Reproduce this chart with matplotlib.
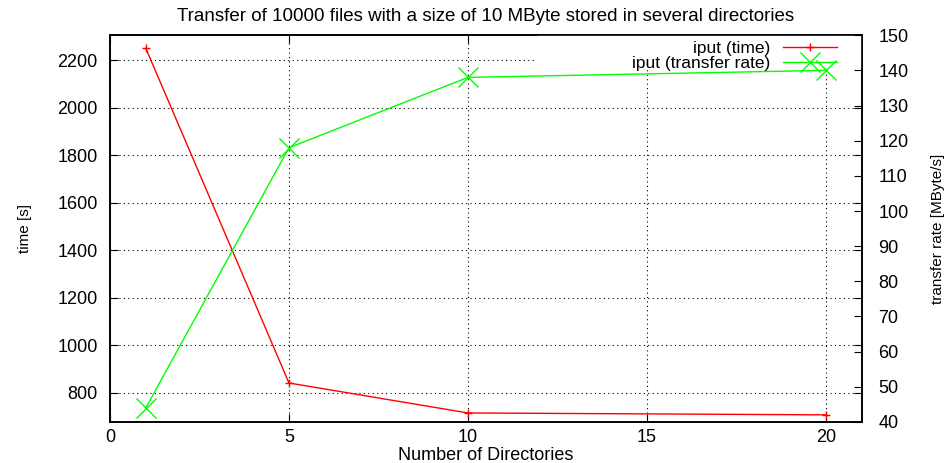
import matplotlib
matplotlib.use("Agg")
import matplotlib.pyplot as plt
from matplotlib.patches import Rectangle

plt.rcParams['font.family'] = ['Liberation Sans', 'DejaVu Sans']

dirs = [1, 5, 10, 20]
time_s = [2250, 842, 716, 708]
rate = [44, 118, 138, 140]

x_ticks = [0, 5, 10, 15, 20]
y_ticks = [800, 1000, 1200, 1400, 1600, 1800, 2000, 2200]
y2_ticks = [40, 50, 60, 70, 80, 90, 100, 110, 120, 130, 140, 150]

narrow = ['Liberation Sans Narrow', 'Liberation Sans', 'DejaVu Sans']

fig, ax = plt.subplots(figsize=(9.5, 4.63), dpi=100)
fig.subplots_adjust(left=0.1158, right=0.907, top=0.924, bottom=0.0886)
ax2 = ax.twinx()

l1, = ax.plot(dirs, time_s, color='#ff0000', lw=1, marker='+', ms=6, mew=1,
              label='iput (time)')
l2, = ax2.plot(dirs, rate, color='#00ff00', lw=1, marker='x', ms=14, mew=1,
               label='iput (transfer rate)')

ax.set_xlim(0, 21)
ax.set_ylim(678, 2305)
ax2.set_ylim(40, 150)
ax.set_xticks(x_ticks)
ax.set_yticks(y_ticks)
ax2.set_yticks(y2_ticks)

ax.grid(True, color='black', linestyle=(0, (1, 3)), linewidth=0.8)
ax.tick_params(direction='in', length=6, labelsize=13, top=True, right=True)
ax.tick_params(axis='y', pad=9)
ax.tick_params(axis='x', pad=5)
ax2.tick_params(direction='in', length=6, labelsize=13, pad=12)

for a in (ax, ax2):
    for s in a.spines.values():
        s.set_linewidth(1.2)

# white key area like gnuplot's opaque key box
ax2.add_patch(Rectangle((0.568, 0.915), 0.432, 0.085, transform=ax2.transAxes,
                        facecolor='white', edgecolor='none', zorder=1))

ax.set_xlabel('Number of Directories', fontsize=13, labelpad=1)
ax.set_ylabel('time [s]', fontsize=11, family=narrow, labelpad=18)
ax2.set_ylabel('transfer rate [MByte/s]', fontsize=11, family=narrow, labelpad=16)
ax.set_title('Transfer of 10000 files with a size of 10 MByte stored in several directories',
             fontsize=13.5, pad=10)

leg = ax2.legend(handles=[l1, l2], loc='upper right', bbox_to_anchor=(0.967, 0.985),
                 markerfirst=False, frameon=False, fontsize=12.5,
                 handlelength=3.1, labelspacing=0.0, borderpad=0,
                 borderaxespad=0, handletextpad=0.75)

fig.savefig('out.png', dpi=100)
